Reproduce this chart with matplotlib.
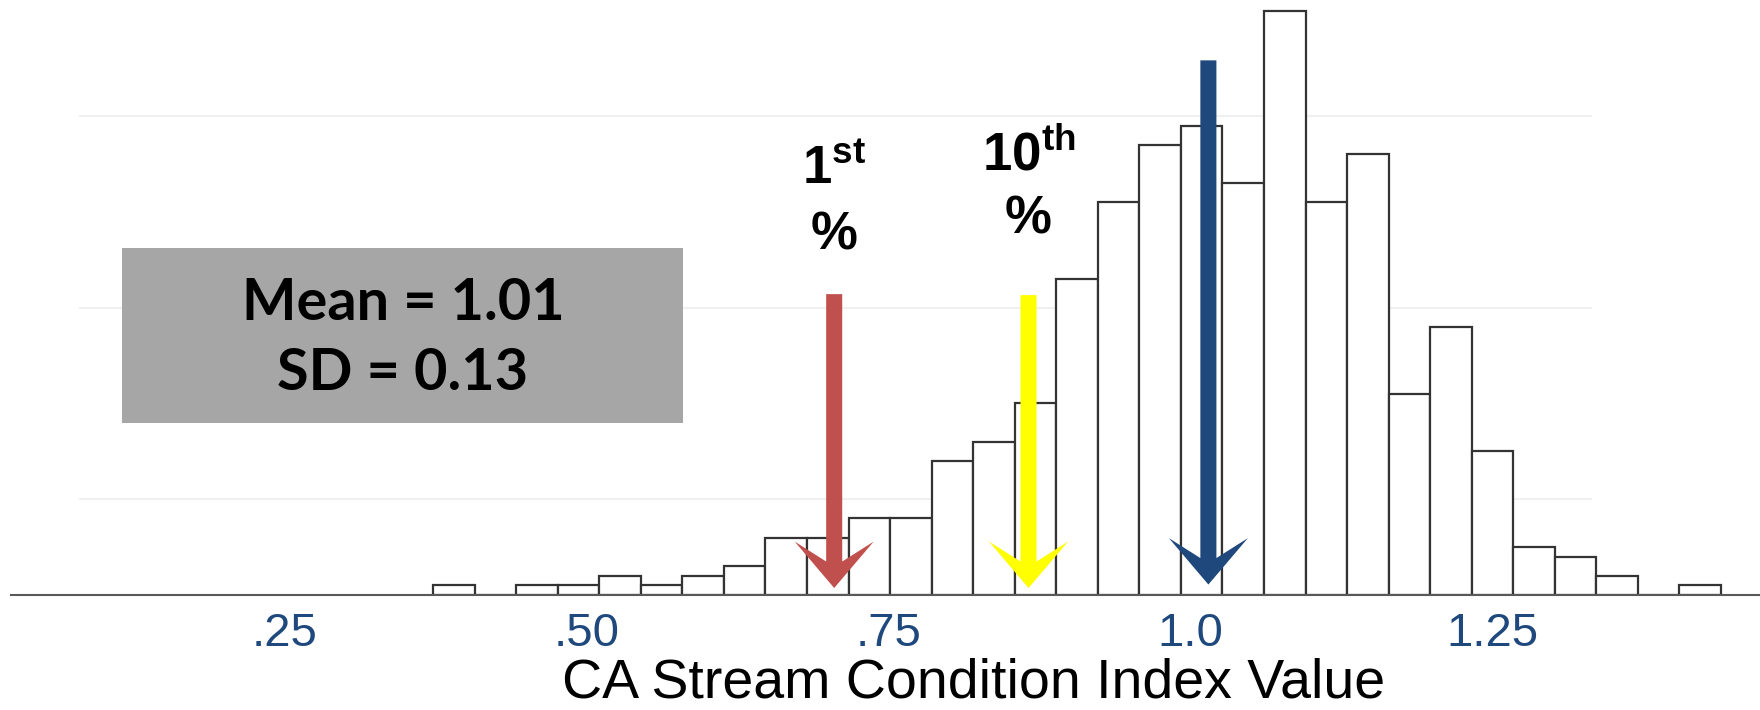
import numpy as np
import matplotlib
matplotlib.use("Agg")
import matplotlib.pyplot as plt
from matplotlib.patches import Rectangle

plt.rcParams["font.family"] = ["Liberation Sans", "DejaVu Sans"]
plt.rcParams["mathtext.fontset"] = "custom"
plt.rcParams["mathtext.rm"] = "Liberation Sans"
plt.rcParams["mathtext.bf"] = "Liberation Sans:bold"

# histogram of CSCI scores (counts per bin)
bin_start = 0.3727
bin_width = 0.03442
counts = [1, 0, 1, 1, 2, 1, 2, 3, 6, 6, 8, 8, 14, 16, 20, 33,
          41, 47, 49, 43, 61, 41, 46, 21, 28, 15, 5, 4, 2, 0, 1]

tick_values = [0.25, 0.50, 0.75, 1.0, 1.25]
tick_labels = [".25", ".50", ".75", "1.0", "1.25"]
grid_levels = [10, 30, 50]

# markers: 1st percentile, 10th percentile, mean
marker_x = [0.705, 0.866, 1.015]
marker_top = [31.4, 31.3, 55.8]
marker_tip = [0.73, 0.73, 1.09]
marker_colors = ["#C0504D", "#FFFF00", "#1F497D"]

pct_labels = [r"$\mathbf{1}^{\mathbf{st}}$", r"$\mathbf{10}^{\mathbf{th}}$"]
pct_label_y = [42.9, 44.3]
pct_sign_y = [36.1, 37.7]

stats_lines = ["Mean = 1.01", "SD = 0.13"]

fig = plt.figure(figsize=(17.6, 7.1), dpi=100)
ax = fig.add_axes([11 / 1760, 115 / 710, 1749 / 1760, 595 / 710])
ax.set_xlim(0.023, 1.472)
ax.set_ylim(0, 62.1)

# faint horizontal gridlines
ax.hlines(grid_levels, 0.079, 1.3325, color="#f0f0f0", lw=1.5, zorder=0)

lefts = bin_start + bin_width * np.arange(len(counts))
ax.bar(lefts, counts, width=bin_width, align="edge", facecolor="white",
       edgecolor="#333333", linewidth=1.6, zorder=2)

# arrows
for x, top, tip, c in zip(marker_x, marker_top, marker_tip, marker_colors):
    ax.arrow(x, top, 0, tip - top, width=0.0133, head_width=0.0655,
             head_length=4.85, overhang=0.43, length_includes_head=True,
             facecolor=c, edgecolor="none", zorder=4)

for x, lab, ly, sy in zip(marker_x[:2], pct_labels, pct_label_y, pct_sign_y):
    ax.text(x, ly, lab, ha="center", va="baseline", fontsize=38,
            fontweight="bold", zorder=5)
    ax.text(x, sy, "%", ha="center", va="baseline", fontsize=38,
            fontweight="bold", zorder=5)

# axes styling
for s in ["top", "right", "left"]:
    ax.spines[s].set_visible(False)
ax.spines["bottom"].set_color("#595959")
ax.spines["bottom"].set_linewidth(1.5)
ax.set_yticks([])
ax.set_xticks(tick_values)
ax.set_xticklabels(tick_labels, fontsize=34, color="#1F497D")
ax.tick_params(axis="x", length=0, pad=12)

ax.set_xlabel("CA Stream Condition Index Value", fontsize=40, va="baseline")
ax.xaxis.set_label_coords(0.5504, -(698 - 595) / 595)

# stats box
fig.patches.append(Rectangle((122 / 1760, 1 - 423 / 710), 561 / 1760, 175 / 710,
                             transform=fig.transFigure, facecolor="#A6A6A6",
                             edgecolor="none", zorder=6))
fig.text(403 / 1760, 1 - 320 / 710, stats_lines[0], ha="center", va="baseline",
         fontsize=41.5, fontweight="bold", family=["Lato", "DejaVu Sans"], zorder=7)
fig.text(403 / 1760, 1 - 389.5 / 710, stats_lines[1], ha="center", va="baseline",
         fontsize=41.5, fontweight="bold", family=["Lato", "DejaVu Sans"], zorder=7)

fig.savefig("out.png", dpi=100)
